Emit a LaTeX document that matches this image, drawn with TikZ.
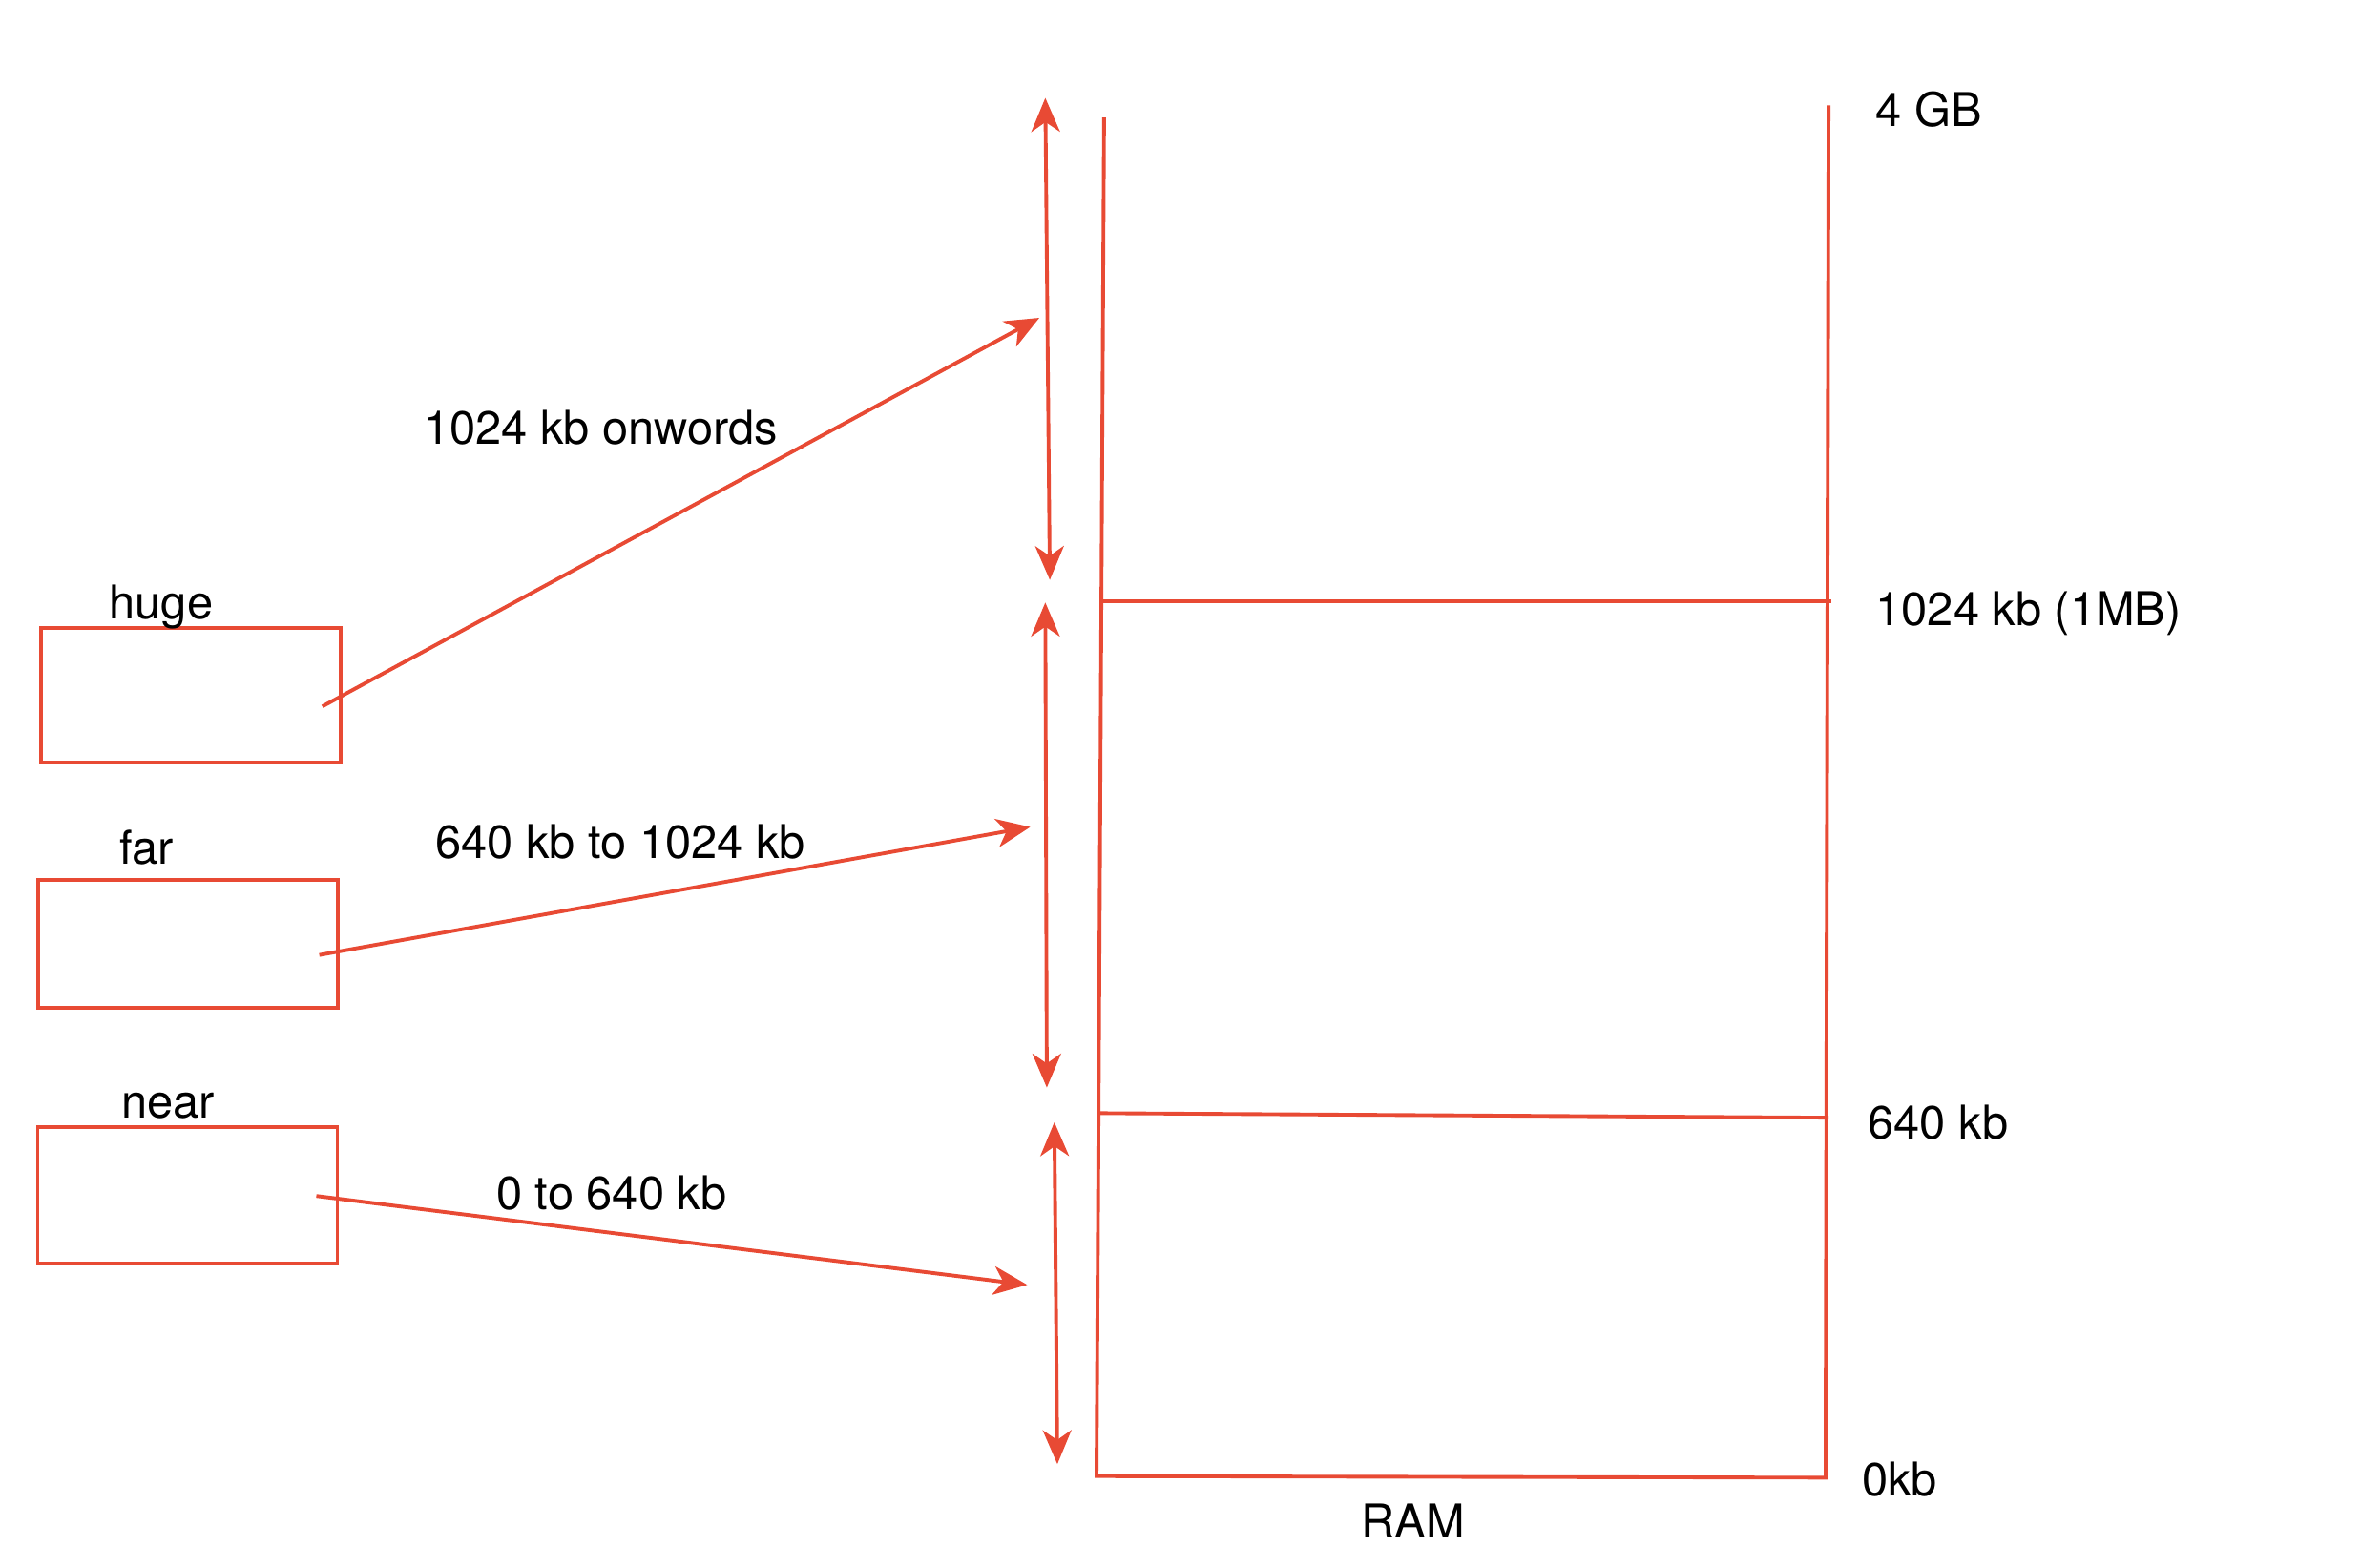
\documentclass[tikz,border=0pt]{standalone}
\usepackage{fontspec}
\setmainfont{TeX Gyre Heros}
\usepackage{tikz}
\usetikzlibrary{arrows.meta,positioning}
\definecolor{ramred}{RGB}{232,74,52}
\tikzset{
    seg/.style={draw=ramred, line width=1.4pt},
    tip/.tip={Stealth[length=0.45cm,width=0.38cm,inset=0.13cm]},
    memarrow/.style={seg, -tip},
    rangearrow/.style={seg, tip-tip},
    membox/.style={draw=ramred, line width=1.4pt, minimum width=3.98cm, inner sep=0pt},
    lbl/.style={font=\fontsize{17.6}{20}\selectfont, inner sep=0pt}
}

\begin{document}
\begin{tikzpicture}
    \useasboundingbox (0,0) rectangle (31.35,-20.81);

    %Pointer boxes
    \node[membox, minimum height=1.78cm] (hugebox) at (2.53,-9.23) {};
    \node[lbl, anchor=base] (hugelbl) at (2.14,-8.22) {huge};
    \node[membox, minimum height=1.70cm] (farbox) at (2.50,-12.53) {};
    \node[lbl, anchor=base] (farlbl) at (1.95,-11.48) {far};
    \node[membox, minimum height=1.82cm] (nearbox) at (2.49,-15.87) {};
    \node[lbl, anchor=base] (nearlbl) at (2.23,-14.85) {near};

    %RAM
    \coordinate (ramtl) at (14.66,-1.56);
    \coordinate (ramtr) at (24.28,-1.40);
    \coordinate (ram1ml) at (14.64,-7.98);
    \coordinate (ram1mr) at (24.32,-7.98);
    \coordinate (ram640l) at (14.60,-14.78);
    \coordinate (ram640r) at (24.28,-14.84);
    \coordinate (rambl) at (14.56,-19.60);
    \coordinate (rambr) at (24.24,-19.62);
    \draw[seg] (ramtl) -- (rambl) -- (rambr) -- (ramtr);
    \draw[seg] (ram1ml) -- (ram1mr);
    \draw[seg] (ram640l) -- (ram640r);
    \node[lbl, anchor=base] (ramlbl) at (18.76,-20.42) {RAM};
    \node[lbl, anchor=base west] (gblbl) at (24.90,-1.68) {4 GB};
    \node[lbl, anchor=base west] (mblbl) at (24.90,-8.30) {1024 kb (1MB)};
    \node[lbl, anchor=base west] (kblbl) at (24.80,-15.12) {640 kb};
    \node[lbl, anchor=base west] (zerolbl) at (24.72,-19.86) {0kb};

    %Ranges
    \coordinate (hugetop) at (13.88,-1.30);
    \coordinate (hugebot) at (13.94,-7.70);
    \coordinate (fartop) at (13.88,-8.00);
    \coordinate (farbot) at (13.90,-14.44);
    \coordinate (neartop) at (14.00,-14.90);
    \coordinate (nearbot) at (14.04,-19.44);
    \draw[rangearrow] (hugetop) -- (hugebot);
    \draw[rangearrow] (fartop) -- (farbot);
    \draw[rangearrow] (neartop) -- (nearbot);

    %Pointers
    \coordinate (hugefrom) at (4.28,-9.38);
    \coordinate (hugeto) at (13.80,-4.22);
    \coordinate (farfrom) at (4.24,-12.68);
    \coordinate (farto) at (13.68,-10.98);
    \coordinate (nearfrom) at (4.20,-15.88);
    \coordinate (nearto) at (13.64,-17.06);
    \draw[memarrow] (hugefrom) -- (hugeto);
    \draw[memarrow] (farfrom) -- (farto);
    \draw[memarrow] (nearfrom) -- (nearto);
    \node[lbl, anchor=base] (hugerange) at (7.98,-5.90) {1024 kb onwords};
    \node[lbl, anchor=base] (farrange) at (8.24,-11.40) {640 kb to 1024 kb};
    \node[lbl, anchor=base] (nearrange) at (8.12,-16.06) {0 to 640 kb};
\end{tikzpicture}
\end{document}
